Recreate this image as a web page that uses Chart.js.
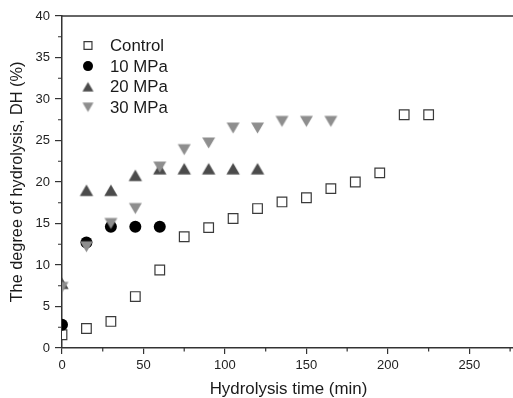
<!DOCTYPE html>
<html>
<head>
<meta charset="utf-8">
<script src="https://cdn.jsdelivr.net/npm/chart.js@4/dist/chart.umd.min.js"></script>
<style>
  html, body { margin: 0; padding: 0; background: #fff; overflow: hidden; width: 513px; height: 398px; }
  #wrap { width: 523px; height: 398px; }
</style>
</head>
<body>
<div id="wrap"><canvas id="c" width="523" height="398"></canvas></div>
<script>
// ---- data ----
const controlTime = [0, 15, 30, 45, 60, 75, 90, 105, 120, 135, 150, 165, 180, 195, 210, 225];
const controlDH   = [1.6, 2.35, 3.2, 6.2, 9.4, 13.4, 14.5, 15.6, 16.8, 17.6, 18.1, 19.2, 20.0, 21.1, 28.1, 28.1];

const mpa10Time = [0, 15, 30, 45, 60];
const mpa10DH   = [2.8, 12.7, 14.6, 14.6, 14.6];

const mpa20Time = [0, 15, 30, 45, 60, 75, 90, 105, 120];
const mpa20DH   = [7.8, 19.0, 19.0, 20.8, 21.6, 21.6, 21.6, 21.6, 21.6];

const mpa30Time = [0, 15, 30, 45, 60, 75, 90, 105, 120, 135, 150, 165];
const mpa30DH   = [7.3, 12.2, 15.0, 16.8, 21.8, 23.9, 24.7, 26.5, 26.5, 27.3, 27.3, 27.3];

const seriesNames = ['Control', '10 MPa', '20 MPa', '30 MPa'];

const xTicks = [0, 50, 100, 150, 200, 250];
const xMinorTicks = [25, 75, 125, 175, 225, 275];
const yTicks = [0, 5, 10, 15, 20, 25, 30, 35, 40];
const yMinorTicks = [2.5, 7.5, 12.5, 17.5, 22.5, 27.5, 32.5, 37.5];

const xTitle = 'Hydrolysis time (min)';
const yTitle = 'The degree of hydrolysis, DH (%)';

function pts(xs, ys) { return xs.map((x, i) => ({ x: x, y: ys[i] })); }

const FONT = "'Liberation Sans', Arial, sans-serif";
const AXIS = '#333333';

// triangle marker images, centred on their bounding box (as in the source plot)
function triangleImage(w, h, color, down) {
  const c = document.createElement('canvas');
  c.width = Math.ceil(w) + 2; c.height = Math.ceil(h) + 2;
  const g = c.getContext('2d');
  const cx = c.width / 2, cy = c.height / 2;
  g.fillStyle = color;
  g.beginPath();
  if (down) {
    g.moveTo(cx - w / 2, cy - h / 2); g.lineTo(cx + w / 2, cy - h / 2); g.lineTo(cx, cy + h / 2);
  } else {
    g.moveTo(cx - w / 2, cy + h / 2); g.lineTo(cx + w / 2, cy + h / 2); g.lineTo(cx, cy - h / 2);
  }
  g.closePath();
  g.fill();
  return c;
}
const COL20 = '#4b4b4b', COL30 = '#8e8e8e';
const tri20 = triangleImage(13.4, 11.6, COL20, false);
const tri30 = triangleImage(13.0, 11.2, COL30, true);
const tri20Leg = triangleImage(11, 9.5, COL20, false);
const tri30Leg = triangleImage(11, 9.5, COL30, true);

const minorTicksPlugin = {
  id: 'minorTicks',
  afterDraw(chart) {
    const ctx = chart.ctx;
    const xs = chart.scales.x, ys = chart.scales.y;
    const a = chart.chartArea;
    ctx.save();
    ctx.strokeStyle = AXIS;
    ctx.lineWidth = 1.2;
    ctx.beginPath();
    xMinorTicks.forEach(v => {
      const px = xs.getPixelForValue(v);
      if (px <= a.right) { ctx.moveTo(px, a.bottom); ctx.lineTo(px, a.bottom + 3.5); }
    });
    yMinorTicks.forEach(v => {
      const py = ys.getPixelForValue(v);
      ctx.moveTo(a.left, py); ctx.lineTo(a.left - 4, py);
    });
    ctx.stroke();
    ctx.lineWidth = 1.5;
    ctx.beginPath();
    ctx.moveTo(a.left, a.top);
    ctx.lineTo(a.right, a.top);
    ctx.stroke();
    ctx.restore();
  }
};

const legendStyles = [
  { pointStyle: 'rect', radius: 5.6 },
  { pointStyle: 'circle', radius: 5 },
  { pointStyle: tri20Leg, radius: 6 },
  { pointStyle: tri30Leg, radius: 6 }
];

const legendPlugin = {
  id: 'insideLegend',
  afterDraw(chart) {
    const ctx = chart.ctx;
    const a = chart.chartArea;
    const x0 = a.left + 26, textX = a.left + 48;
    const y0 = a.top + 29.5, dy = 20.6;
    ctx.save();
    chart.data.datasets.forEach((ds, i) => {
      const y = y0 + i * dy;
      ctx.fillStyle = ds.backgroundColor;
      ctx.strokeStyle = ds.borderColor;
      ctx.lineWidth = ds.borderWidth;
      Chart.helpers.drawPoint(ctx, {
        pointStyle: legendStyles[i].pointStyle,
        rotation: 0,
        radius: legendStyles[i].radius,
        borderWidth: ds.borderWidth
      }, x0, y);
      ctx.fillStyle = '#1a1a1a';
      ctx.font = '16.8px ' + FONT;
      ctx.textBaseline = 'middle';
      ctx.textAlign = 'left';
      ctx.fillText(seriesNames[i], textX, y + 1);
    });
    ctx.restore();
  }
};

new Chart(document.getElementById('c'), {
  type: 'scatter',
  data: {
    datasets: [
      { label: seriesNames[0], data: pts(controlTime, controlDH), pointStyle: 'rect', pointRadius: 6.8,
        backgroundColor: '#ffffff', borderColor: '#3a3a3a', borderWidth: 1.2, order: 4, clip: 0 },
      { label: seriesNames[1], data: pts(mpa10Time, mpa10DH), pointStyle: 'circle', pointRadius: 6,
        backgroundColor: '#000000', borderColor: '#000000', borderWidth: 0, order: 3, clip: 0 },
      { label: seriesNames[2], data: pts(mpa20Time, mpa20DH), pointStyle: tri20, pointRadius: 7.7,
        backgroundColor: COL20, borderColor: COL20, borderWidth: 0, order: 2, clip: 0 },
      { label: seriesNames[3], data: pts(mpa30Time, mpa30DH), pointStyle: tri30, pointRadius: 7.6,
        backgroundColor: COL30, borderColor: COL30, borderWidth: 0, order: 1, clip: 0 }
    ]
  },
  options: {
    responsive: false,
    animation: false,
    events: [],
    layout: { padding: { top: 16, right: 0, left: 0, bottom: 0 } },
    plugins: { legend: { display: false }, tooltip: { enabled: false } },
    scales: {
      x: {
        type: 'linear', min: 0, max: 278,
        afterBuildTicks: s => { s.ticks = xTicks.map(v => ({ value: v })); },
        afterFit: s => { s.height = 50; },
        grid: { drawOnChartArea: false, drawTicks: true, tickLength: 6, color: AXIS, lineWidth: 1.2 },
        border: { display: true, color: AXIS, width: 1.5 },
        ticks: { color: '#222', font: { family: FONT, size: 13 }, padding: 4, maxRotation: 0 },
        title: { display: true, text: xTitle, color: '#1a1a1a', font: { family: FONT, size: 16.9, lineHeight: 1 }, padding: { top: 0, bottom: 0 } }
      },
      y: {
        type: 'linear', min: 0, max: 40,
        afterBuildTicks: s => { s.ticks = yTicks.map(v => ({ value: v })); },
        afterFit: s => { s.width = 62; },
        grid: { drawOnChartArea: false, drawTicks: true, tickLength: 7, color: AXIS, lineWidth: 1.2 },
        border: { display: true, color: AXIS, width: 1.5 },
        ticks: { color: '#222', font: { family: FONT, size: 13 }, padding: 5 },
        title: { display: true, text: yTitle, color: '#1a1a1a', font: { family: FONT, size: 16.3, lineHeight: 1 }, padding: { top: 9, bottom: 0 } }
      }
    }
  },
  plugins: [minorTicksPlugin, legendPlugin]
});
</script>
</body>
</html>
